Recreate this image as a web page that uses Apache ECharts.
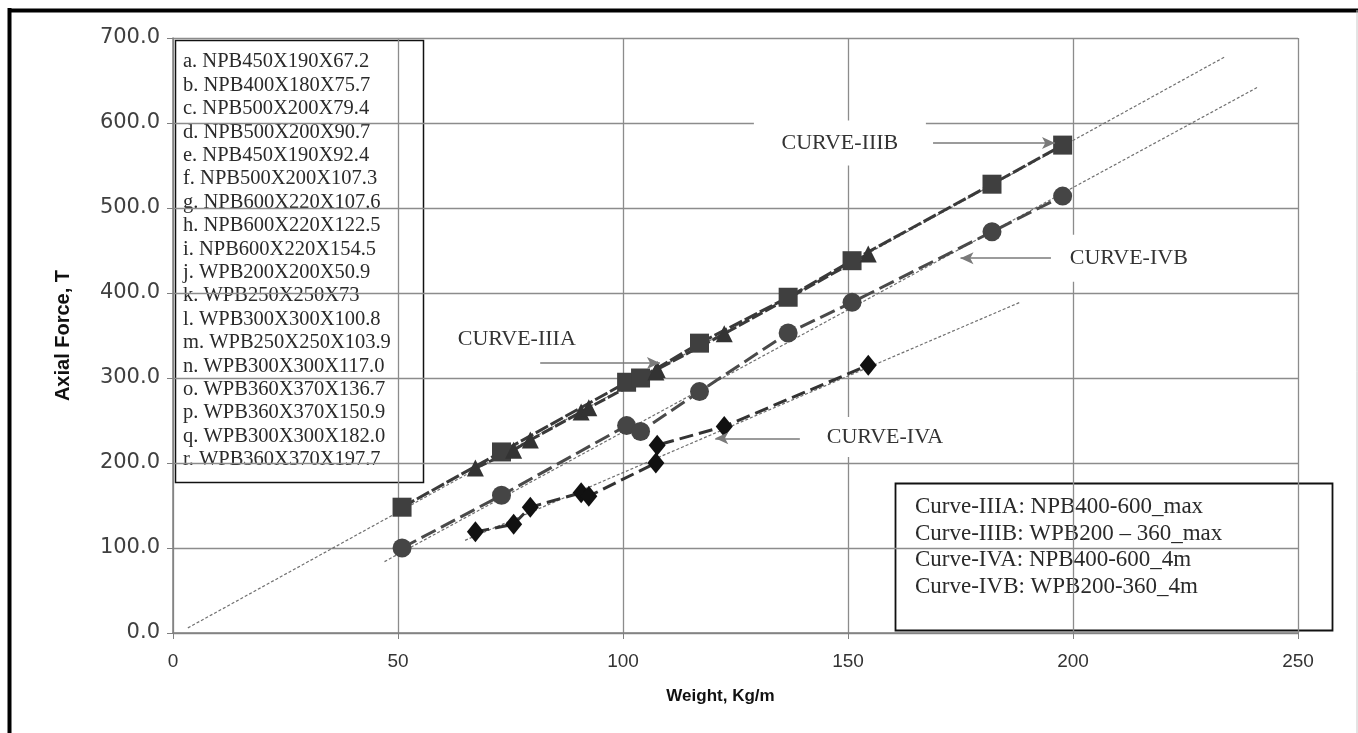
<!DOCTYPE html>
<html>
<head>
<meta charset="utf-8">
<script src="https://cdn.jsdelivr.net/npm/echarts@6/dist/echarts.min.js"></script>
<style>
html,body{margin:0;padding:0;background:#fff;}
#chart{width:1358px;height:733px;}
</style>
</head>
<body>
<div id="chart"></div>
<script>
// ---- data ----
const npbWeights = [67.2, 75.7, 79.4, 90.7, 92.4, 107.3, 107.6, 122.5, 154.5];
const wpbWeights = [50.9, 73, 100.8, 103.9, 117.0, 136.7, 150.9, 182.0, 197.7];
const curveIIIA = [194, 215, 227, 260, 265, 307, 310, 352, 446];   // NPB max (triangles)
const curveIIIB = [148, 213, 295, 300, 341, 395, 438, 528, 574];   // WPB max (squares)
const curveIVA  = [119, 128, 148, 165, 161, 200, 221, 243, 315];   // NPB 4m (diamonds)
const curveIVB  = [100, 162, 244, 237, 284, 353, 389, 472, 514];   // WPB 4m (circles)
const trendIII  = [[3.3, 6], [233.8, 678]];
const trendIVB  = [[47, 84], [241, 642]];
const trendIVA  = [[64.9, 109], [188.2, 389]];
const xTicks = [0, 50, 100, 150, 200, 250];
const yTicks = [0, 100, 200, 300, 400, 500, 600, 700];
const sectionLabels = [
  'a. NPB450X190X67.2','b. NPB400X180X75.7','c. NPB500X200X79.4','d. NPB500X200X90.7',
  'e. NPB450X190X92.4','f. NPB500X200X107.3','g. NPB600X220X107.6','h. NPB600X220X122.5',
  'i. NPB600X220X154.5','j. WPB200X200X50.9','k. WPB250X250X73','l. WPB300X300X100.8',
  'm. WPB250X250X103.9','n. WPB300X300X117.0','o. WPB360X370X136.7','p. WPB360X370X150.9',
  'q. WPB300X300X182.0','r. WPB360X370X197.7'
];
const curveNotes = [
  'Curve-IIIA: NPB400-600_max','Curve-IIIB: WPB200 \u2013 360_max',
  'Curve-IVA: NPB400-600_4m','Curve-IVB: WPB200-360_4m'
];
const curveTags = [
  {name:'CURVE-IIIB', at:[148.2, 576.5], box:[172, 45], arrow:[[168.9, 576.5],[196.0, 576.5]]},
  {name:'CURVE-IIIA', at:[76.4, 346], box:[130, 36], arrow:[[81.6, 317.6],[108.2, 317.6]]},
  {name:'CURVE-IVB',  at:[212.4, 441], box:[140, 47], arrow:[[195.1, 441],[175.0, 441]]},
  {name:'CURVE-IVA',  at:[158.2, 230.6], box:[140, 40], arrow:[[139.3, 229],[120.5, 229]]}
];

const pair = (xs, ys) => xs.map((x, i) => [x, ys[i]]);
const serif = "'Liberation Serif','Times New Roman',serif";
const sans = "'Liberation Sans',Arial,sans-serif";
const gridColor = '#8c8c8c';

const chart = echarts.init(document.getElementById('chart'), null, {renderer:'canvas'});

function trend(data){
  return {type:'line', data, symbol:'none', silent:true, z:1,
    lineStyle:{color:'#707070', width:1.2, type:[3,2]}};
}

const tagSeries = {
  type:'line', data:[], z:5, silent:true,
  markLine:{
    silent:true, symbol:['none','arrow'], symbolSize:[9,13],
    lineStyle:{color:'#7a7a7a', width:1.6, type:'solid'},
    label:{show:false},
    data: curveTags.map(t => [{coord:t.arrow[0]},{coord:t.arrow[1]}])
  },
  markPoint:{
    silent:true,
    data: curveTags.map(t => ({
      name:t.name, coord:t.at, symbol:'rect', symbolSize:t.box,
      itemStyle:{color:'#fff'},
      label:{show:true, position:'inside', formatter:t.name, color:'#333',
        fontFamily:serif, fontSize:22}
    }))
  }
};

const option = {
  animation:false,
  backgroundColor:'#fff',
  grid:{left:173, right:60, top:38, bottom:100, show:false},
  xAxis:{
    type:'value', min:0, max:250, interval:50,
    name:'Weight, Kg/m', nameLocation:'middle', nameGap:55,
    nameTextStyle:{fontFamily:sans, fontWeight:'bold', fontSize:17, color:'#111', padding:[0,30,0,0]},
    axisLine:{show:true, lineStyle:{color:'#808080', width:1.5}},
    axisTick:{show:true, length:6, lineStyle:{color:'#808080'}},
    axisLabel:{margin:19, fontFamily:sans, fontSize:19, color:'#333',
      formatter:v => xTicks.includes(v) ? String(v) : ''},
    splitLine:{show:true, lineStyle:{color:gridColor, width:1.3}}
  },
  yAxis:{
    type:'value', min:0, max:700, interval:100,
    name:'Axial Force, T', nameLocation:'middle', nameGap:100, nameRotate:90,
    nameTextStyle:{fontFamily:sans, fontWeight:'bold', fontSize:20, color:'#111'},
    axisLine:{show:true, lineStyle:{color:'#808080', width:1.5}},
    axisTick:{show:true, length:6, lineStyle:{color:'#808080'}},
    axisLabel:{margin:13, fontFamily:"'DejaVu Sans',Verdana,sans-serif", fontSize:21, color:'#404040',
      formatter:v => yTicks.includes(v) ? v.toFixed(1) : ''},
    splitLine:{show:true, lineStyle:{color:gridColor, width:1.3}}
  },
  series:[
    trend(trendIII), trend(trendIVB), trend(trendIVA),
    {name:'Curve-IIIB', type:'line', data:pair(wpbWeights, curveIIIB), z:3,
      symbol:'rect', symbolSize:19, itemStyle:{color:'#3f3f3f'},
      lineStyle:{color:'#3a3a3a', width:3, type:[14,3]}},
    {name:'Curve-IIIA', type:'line', data:pair(npbWeights, curveIIIA), z:3,
      symbol:'triangle', symbolSize:17, itemStyle:{color:'#333'},
      lineStyle:{color:'#3a3a3a', width:3, type:[12,3]}},
    {name:'Curve-IVB', type:'line', data:pair(wpbWeights, curveIVB), z:3,
      symbol:'circle', symbolSize:19, itemStyle:{color:'#454545'},
      lineStyle:{color:'#4a4a4a', width:3, type:[16,6]}},
    {name:'Curve-IVA', type:'line', data:pair(npbWeights, curveIVA), z:3,
      symbol:'diamond', symbolSize:[17,21], itemStyle:{color:'#111'},
      lineStyle:{color:'#333', width:3, type:[14,6]}},
    tagSeries
  ],
  graphic:[
    {type:'line', z:200, shape:{x1:9.5, y1:8, x2:9.5, y2:733}, style:{stroke:'#000', lineWidth:4}},
    {type:'line', z:200, shape:{x1:8, y1:10.5, x2:1358, y2:10.5}, style:{stroke:'#000', lineWidth:4}},
    {type:'line', z:200, shape:{x1:1357, y1:10, x2:1357, y2:733}, style:{stroke:'#c8c8c8', lineWidth:1}},
    {type:'group', z:100, children:[
      {type:'rect', shape:{x:175.5, y:40.5, width:248, height:442}, style:{fill:'#fff', stroke:'#111', lineWidth:1.5}},
      ...sectionLabels.map((s, i) => ({type:'text', style:{text:s, x:183, y:62 + i*23.4,
        verticalAlign:'middle', font:"20.5px " + serif, fill:'#2a2a2a'}}))
    ]},
    {type:'group', z:100, children:[
      {type:'rect', shape:{x:895.5, y:483.5, width:437, height:147}, style:{fill:'#fff', stroke:'#111', lineWidth:1.8}},
      ...curveNotes.map((s, i) => ({type:'text', style:{text:s, x:915, y:507 + i*26.7,
        verticalAlign:'middle', font:"23px " + serif, fill:'#2a2a2a'}}))
    ]}
  ]
};
chart.setOption(option);
</script>
</body>
</html>
